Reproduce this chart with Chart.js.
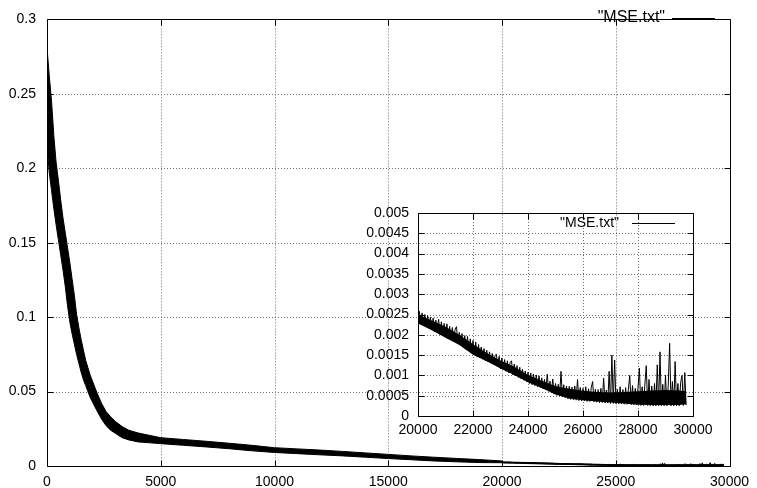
<!DOCTYPE html>
<html>
<head>
<meta charset="utf-8">
<script src="https://cdn.jsdelivr.net/npm/chart.js@4.4.1/dist/chart.umd.min.js"></script>
<style>
  html, body { margin: 0; padding: 0; background: #fff; }
  #wrap { position: relative; width: 757px; height: 488px; }
  #wrap canvas { position: absolute; left: 0; top: 0; }
</style>
</head>
<body>
<div id="wrap">
  <canvas id="mainChart" width="757" height="488"></canvas>
  <canvas id="zoomChart" width="757" height="488"></canvas>
</div>
<script>
// ---- Training error, iterations 0..20000: upper / lower edge of the noisy band ----
const mainX = [0, 100, 200, 300, 400, 500, 600, 700, 800, 900, 1000, 1100, 1200, 1300, 1400, 1500, 1600, 1700, 1800, 1900, 2000,
  2200, 2400, 2600, 2800, 3000, 3300, 3600, 4000, 4500, 5000,
  6000, 7000, 8000, 9000, 10000, 11000, 12000, 13000, 14000, 15000, 16000, 17000, 18000, 19000, 20000];
const mainHigh = [0.281, 0.262, 0.245, 0.222, 0.204, 0.192, 0.179, 0.167, 0.157, 0.147, 0.137, 0.126, 0.115, 0.102, 0.093, 0.085, 0.078, 0.071, 0.066, 0.061, 0.057,
  0.049, 0.042, 0.0365, 0.033, 0.030, 0.0265, 0.024, 0.0222, 0.0206, 0.0190,
  0.0178, 0.0166, 0.0153, 0.0139, 0.0123, 0.0115, 0.0107, 0.0098, 0.0088, 0.0078, 0.0068, 0.0059, 0.0051, 0.0043, 0.0034];
const mainLow = [0.215, 0.197, 0.185, 0.173, 0.162, 0.152, 0.142, 0.132, 0.121, 0.108, 0.097, 0.089, 0.082, 0.075, 0.069, 0.063, 0.058, 0.054, 0.050, 0.046, 0.043,
  0.037, 0.0315, 0.027, 0.024, 0.022, 0.019, 0.0175, 0.0162, 0.0156, 0.0150,
  0.0139, 0.0128, 0.0116, 0.0102, 0.0091, 0.0083, 0.0075, 0.0068, 0.0059, 0.0050, 0.0042, 0.0034, 0.0028, 0.0023, 0.0022];

// ---- Iterations 20000..29750: edges of the dense part of the band ----
const tailEdgeX = [20000, 20500, 21000, 21500, 22000, 22500, 23000, 23500, 24000, 24500, 25000,
  25500, 26000, 26500, 27000, 27500, 28000, 28500, 29000, 29500, 29750];
const tailEdgeHigh = [0.00250, 0.00235, 0.00220, 0.00200, 0.00177, 0.00155, 0.00137, 0.00121, 0.00101, 0.00087, 0.00073,
  0.00067, 0.00062, 0.00059, 0.00058, 0.00059, 0.00061, 0.00063, 0.00064, 0.00063, 0.00061];
const tailEdgeLow = [0.00228, 0.00211, 0.00193, 0.00175, 0.00151, 0.00135, 0.00117, 0.00101, 0.00083, 0.00069, 0.00053,
  0.00043, 0.00039, 0.00036, 0.00033, 0.00031, 0.00028, 0.00027, 0.00027, 0.00027, 0.00029];

// ---- Training error, iterations 20000..29750, one value every 50 iterations ----
const tailStart = 20000;
const tailStep = 50;
const tailMSE = [
  0.00232, 0.00258, 0.00226, 0.00254, 0.00229, 0.00250, 0.00220, 0.00247, 0.00223, 0.00243,
  0.00212, 0.00241, 0.00208, 0.00236, 0.00214, 0.00238, 0.00201, 0.00232, 0.00198, 0.00228,
  0.00195, 0.00227, 0.00190, 0.00221, 0.00192, 0.00218, 0.00184, 0.00214, 0.00220, 0.00178,
  0.00206, 0.00175, 0.00203, 0.00170, 0.00198, 0.00164, 0.00196, 0.00160, 0.00190, 0.00155,
  0.00186, 0.00150, 0.00182, 0.00146, 0.00176, 0.00143, 0.00170, 0.00140, 0.00166, 0.00136,
  0.00162, 0.00133, 0.00158, 0.00130, 0.00154, 0.00127, 0.00149, 0.00152, 0.00121, 0.00147,
  0.00116, 0.00143, 0.00114, 0.00139, 0.00110, 0.00136, 0.00106, 0.00132, 0.00136, 0.00101,
  0.00128, 0.00099, 0.00124, 0.00095, 0.00120, 0.00092, 0.00115, 0.00088, 0.00111, 0.00084,
  0.00108, 0.00080, 0.00106, 0.00077, 0.00103, 0.00075, 0.00101, 0.00072, 0.00099, 0.00070,
  0.00094, 0.00067, 0.00090, 0.00064, 0.00103, 0.00061, 0.00086, 0.00058, 0.00091, 0.00054,
  0.00080, 0.00051, 0.00078, 0.00049, 0.00110, 0.00047, 0.00077, 0.00045, 0.00074, 0.00042,
  0.00073, 0.00041, 0.00071, 0.00040, 0.00074, 0.00039, 0.00090, 0.00038, 0.00070, 0.00037,
  0.00068, 0.00037, 0.00072, 0.00036, 0.00067, 0.00036, 0.00070, 0.00085, 0.00035, 0.00066,
  0.00034, 0.00065, 0.00033, 0.00068, 0.00033, 0.00093, 0.00032, 0.00064, 0.00032, 0.00110,
  0.00031, 0.00150, 0.00031, 0.00138, 0.00030, 0.00066, 0.00030, 0.00072, 0.00030, 0.00065,
  0.00029, 0.00070, 0.00029, 0.00066, 0.00100, 0.00028, 0.00075, 0.00028, 0.00068, 0.00027,
  0.00070, 0.00118, 0.00026, 0.00072, 0.00026, 0.00078, 0.00124, 0.00026, 0.00090, 0.00025,
  0.00074, 0.00025, 0.00080, 0.00025, 0.00126, 0.00025, 0.00158, 0.00025, 0.00078, 0.00025,
  0.00100, 0.00025, 0.00076, 0.00179, 0.00025, 0.00085, 0.00025, 0.00134, 0.00025, 0.00080,
  0.00025, 0.00082, 0.00100, 0.00026, 0.00107, 0.00027
];

// ---- Tick values and labels ----
const mainXTicks = [0, 5000, 10000, 15000, 20000, 25000, 30000];
const mainXLabels = ['0', '5000', '10000', '15000', '20000', '25000', '30000'];
const mainYTicks = [0, 0.05, 0.1, 0.15, 0.2, 0.25, 0.3];
const mainYLabels = ['0', '0.05', '0.1', '0.15', '0.2', '0.25', '0.3'];
const zoomXTicks = [20000, 22000, 24000, 26000, 28000, 30000];
const zoomXLabels = ['20000', '22000', '24000', '26000', '28000', '30000'];
const zoomYTicks = [0, 0.0005, 0.001, 0.0015, 0.002, 0.0025, 0.003, 0.0035, 0.004, 0.0045, 0.005];
const zoomYLabels = ['0', '0.0005', '0.001', '0.0015', '0.002', '0.0025', '0.003', '0.0035', '0.004', '0.0045', '0.005'];

const seriesName = '"MSE.txt"';
const FONT = '"Liberation Sans", Arial, Helvetica, sans-serif';

const toPoints = (xs, ys) => xs.map((x, i) => ({ x, y: ys[i] }));
const tailPoints = tailMSE.map((v, i) => ({ x: tailStart + i * tailStep, y: v }));
const bandHigh = toPoints(mainX, mainHigh);
const bandLow = toPoints(mainX, mainLow);
const tailHigh = toPoints(tailEdgeX, tailEdgeHigh);
const tailLow = toPoints(tailEdgeX, tailEdgeLow);

// gnuplot-style decoration: dotted grid, framed box with inward ticks, key in the corner
function gnuplotDecor(key) {
  return {
    id: 'gnuplotDecor',
    beforeDatasetsDraw(chart) {
      const { ctx, chartArea: a, scales: { x, y } } = chart;
      ctx.save();
      ctx.strokeStyle = '#6e6e6e';
      ctx.lineWidth = 1;
      ctx.setLineDash([1, 2]);
      ctx.beginPath();
      x.ticks.forEach(t => {
        if (t.value > x.min && t.value < x.max) {
          const px = Math.round(x.getPixelForValue(t.value)) + 0.5;
          ctx.moveTo(px, a.top);
          ctx.lineTo(px, a.bottom);
        }
      });
      y.ticks.forEach(t => {
        if (t.value > y.min && t.value < y.max) {
          const py = Math.round(y.getPixelForValue(t.value)) + 0.5;
          ctx.moveTo(a.left, py);
          ctx.lineTo(a.right, py);
        }
      });
      ctx.stroke();
      ctx.restore();
    },
    afterDatasetsDraw(chart) {
      const { ctx, chartArea: a, scales: { x, y } } = chart;
      const L = Math.round(a.left) + 0.5, R = Math.round(a.right) + 0.5;
      const T = Math.round(a.top) + 0.5, B = Math.round(a.bottom) + 0.5;
      const tick = 6;
      ctx.save();
      ctx.strokeStyle = '#000';
      ctx.lineWidth = 1;
      ctx.setLineDash([]);
      ctx.beginPath();
      ctx.rect(L, T, R - L, B - T);
      x.ticks.forEach(t => {
        const px = Math.round(x.getPixelForValue(t.value)) + 0.5;
        ctx.moveTo(px, B); ctx.lineTo(px, B - tick);
        ctx.moveTo(px, T); ctx.lineTo(px, T + tick);
      });
      y.ticks.forEach(t => {
        const py = Math.round(y.getPixelForValue(t.value)) + 0.5;
        ctx.moveTo(L, py); ctx.lineTo(L + tick, py);
        ctx.moveTo(R, py); ctx.lineTo(R - tick, py);
      });
      ctx.stroke();

      // key
      ctx.fillStyle = '#000';
      ctx.font = key.fontSize + 'px ' + FONT;
      ctx.textAlign = 'right';
      ctx.textBaseline = 'middle';
      ctx.fillText(seriesName, key.textRight, key.y);
      ctx.beginPath();
      ctx.moveTo(key.x1, Math.round(key.y) + 0.5);
      ctx.lineTo(key.x2, Math.round(key.y) + 0.5);
      ctx.stroke();
      ctx.restore();
    }
  };
}

function fixedTicks(values) {
  return scale => { scale.ticks = values.map(v => ({ value: v })); };
}

const common = {
  responsive: false,
  animation: false,
  events: [],
  plugins: { legend: { display: false }, tooltip: { enabled: false } },
  elements: { point: { radius: 0 }, line: { tension: 0 } }
};

function axisOptions(min, max, values, labels, padding, fitFn) {
  return {
    type: 'linear', min, max,
    afterBuildTicks: fixedTicks(values),
    afterFit: fitFn,
    grid: { display: false, drawTicks: false },
    border: { display: false },
    ticks: {
      callback: (v, i) => labels[i],
      font: { family: FONT, size: 14 }, color: '#000',
      padding, maxRotation: 0, autoSkip: false
    }
  };
}

// ---- full run ----
new Chart(document.getElementById('mainChart'), {
  type: 'line',
  data: {
    datasets: [
      { data: bandHigh, borderColor: '#000', backgroundColor: '#000', borderWidth: 1, fill: '+1' },
      { data: bandLow, borderColor: '#000', borderWidth: 1, fill: false },
      { data: tailHigh, borderColor: '#000', backgroundColor: '#000', borderWidth: 1.5, fill: '+1' },
      { data: tailLow, borderColor: '#000', borderWidth: 1.5, fill: false },
      { data: tailPoints, borderColor: '#000', borderWidth: 1.4, fill: false }
    ]
  },
  options: {
    ...common,
    layout: { padding: { top: 13, right: 25, left: 0, bottom: 0 } },
    scales: {
      x: axisOptions(0, 30000, mainXTicks, mainXLabels, 8, s => { s.height = 22; }),
      y: axisOptions(0, 0.3, mainYTicks, mainYLabels, 11, s => { s.width = 47; })
    }
  },
  plugins: [gnuplotDecor({ fontSize: 16, textRight: 665, y: 18, x1: 672, x2: 715 })]
});

// ---- close-up of the last 10000 iterations ----
new Chart(document.getElementById('zoomChart'), {
  type: 'line',
  data: {
    datasets: [
      { data: tailHigh, borderWidth: 0, backgroundColor: '#000', fill: '+1' },
      { data: tailLow, borderWidth: 0, fill: false },
      { data: tailPoints, borderColor: '#000', borderWidth: 1, fill: false }
    ]
  },
  options: {
    ...common,
    layout: { padding: { top: 213, right: 64, left: 0, bottom: 0 } },
    scales: {
      x: axisOptions(20000, 30000, zoomXTicks, zoomXLabels, 6, s => { s.height = 72; }),
      y: axisOptions(0, 0.005, zoomYTicks, zoomYLabels, 9, s => { s.width = 418; })
    }
  },
  plugins: [gnuplotDecor({ fontSize: 14, textRight: 619, y: 223, x1: 632, x2: 675 })]
});
</script>
</body>
</html>
